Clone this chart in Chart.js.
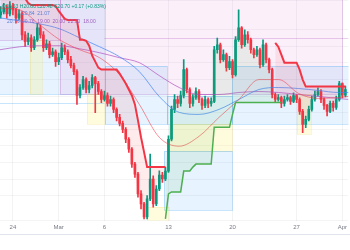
<!DOCTYPE html>
<html>
<head>
<meta charset="utf-8">
<script src="https://cdn.jsdelivr.net/npm/chart.js@4.4.1/dist/chart.umd.min.js"></script>
<style>
  html, body { margin: 0; padding: 0; background: #fff; }
  #wrap { width: 350px; height: 250px; position: relative; }
</style>
</head>
<body>
<div id="wrap"><canvas id="chart"></canvas></div>
<script>
// 8h candles, day 0 = Feb 24
var startDay = -1.333;
var candleStep = 1 / 3;

var opens = [22.95,23.04,23.16,22.98,23.22,23.10,22.86,22.98,22.35,22.14,
  22.26,21.96,22.20,22.56,22.35,21.96,22.08,21.75,21.84,21.54,
  21.66,21.96,21.84,21.60,21.42,21.24,20.52,20.76,21.00,20.70,
  20.82,21.06,20.88,20.64,20.40,20.52,20.28,20.40,20.10,19.86,
  19.68,19.50,19.20,18.90,18.45,18.15,17.55,17.25,16.86,17.40,
  18.00,17.25,17.70,18.12,18.00,18.24,19.20,20.10,20.40,20.28,
  20.52,21.30,20.70,20.28,20.46,20.64,20.40,20.22,20.40,20.28,
  20.34,21.90,22.05,21.60,21.75,21.36,21.54,21.15,22.20,22.56,
  22.05,22.35,22.20,21.90,21.75,21.90,21.45,22.05,21.60,21.30,
  20.55,20.40,20.46,20.28,20.40,20.46,20.34,20.52,20.40,20.04,
  19.65,19.80,20.10,20.40,20.55,20.64,20.40,20.22,20.04,20.28,
  20.16,20.40,20.88,20.53];
var highs = [23.20,23.30,23.25,23.35,23.30,23.15,23.10,23.05,22.45,22.40,
  22.35,22.30,22.70,22.65,22.45,22.20,22.15,21.95,21.90,21.80,
  22.10,22.05,21.90,21.70,21.50,21.30,20.85,21.10,21.05,20.95,
  21.15,21.10,20.95,20.70,20.65,20.60,20.50,20.45,20.15,19.95,
  19.75,19.55,19.25,18.95,18.50,18.20,17.65,17.30,17.50,18.75,
  18.10,17.80,18.25,18.20,18.35,19.30,20.20,20.55,20.50,20.65,
  21.60,21.35,20.75,20.55,20.75,20.70,20.45,20.50,20.45,20.45,
  22.00,22.25,22.10,21.90,21.80,21.70,21.60,22.30,23.10,22.60,
  22.50,22.45,22.25,21.95,22.00,21.95,22.20,22.10,21.65,21.35,
  20.60,20.55,20.50,20.50,20.55,20.50,20.60,20.55,20.45,20.10,
  19.90,20.20,20.50,20.65,20.75,20.70,20.45,20.25,20.35,20.35,
  20.50,20.95,20.90,20.80];
var lows = [22.85,22.98,22.85,22.92,22.95,22.70,22.80,22.20,22.00,22.05,
  21.85,21.90,22.15,22.25,21.85,21.90,21.65,21.70,21.40,21.45,
  21.60,21.75,21.50,21.35,21.15,20.25,20.45,20.70,20.60,20.60,
  20.75,20.00,20.55,20.30,20.35,20.20,20.20,20.00,19.75,19.60,
  19.40,19.10,18.80,18.35,18.05,17.45,17.10,16.80,16.80,17.35,
  17.15,17.20,17.65,17.90,17.95,18.20,19.15,20.00,20.15,20.20,
  20.45,20.60,20.15,20.20,20.40,20.30,20.10,20.15,20.15,20.20,
  20.30,21.80,21.50,21.55,21.25,21.30,21.05,21.10,22.15,21.95,
  22.00,22.10,21.80,21.65,21.70,21.35,21.40,21.50,21.20,20.45,
  20.30,20.35,20.15,20.20,20.35,20.25,20.30,20.30,19.95,19.40,
  19.55,19.75,20.05,20.35,20.50,20.30,20.10,19.90,20.00,20.05,
  20.10,20.35,20.45,20.48];
var closes = [23.04,23.16,22.98,23.22,23.10,22.86,22.98,22.35,22.14,22.26,
  21.96,22.20,22.56,22.35,21.96,22.08,21.75,21.84,21.54,21.66,
  21.96,21.84,21.60,21.42,21.24,20.52,20.76,21.00,20.70,20.82,
  21.06,20.88,20.64,20.40,20.52,20.28,20.40,20.10,19.86,19.68,
  19.50,19.20,18.90,18.45,18.15,17.55,17.25,16.86,17.40,18.00,
  17.25,17.70,18.12,18.00,18.24,19.20,20.10,20.40,20.28,20.52,
  21.30,20.70,20.28,20.46,20.64,20.40,20.22,20.40,20.28,20.34,
  21.90,22.05,21.60,21.75,21.36,21.54,21.15,22.20,22.56,22.05,
  22.35,22.20,21.90,21.75,21.90,21.45,22.05,21.60,21.30,20.55,
  20.40,20.46,20.28,20.40,20.46,20.34,20.52,20.40,20.04,19.65,
  19.80,20.10,20.40,20.55,20.64,20.40,20.22,20.04,20.28,20.16,
  20.40,20.88,20.53,20.70];

// supertrend, one value per candle (null when the other side is active)
var stUpper = [23.7,23.7,23.7,23.6,23.6,23.6,23.55,23.5,23.45,23.31,
  23.25,23.25,23.25,23.25,23.25,23.25,23.25,23.25,23.22,23.07,
  22.95,22.83,22.80,22.80,22.80,22.80,22.20,22.20,22.17,22.02,
  21.72,21.54,21.36,21.30,21.30,21.30,21.30,21.30,21.30,21.18,
  21.03,20.88,20.70,20.52,20.25,19.77,19.26,18.81,18.36,18.36,
  18.36,18.36,18.36,18.36,18.36,null,null,null,null,null,
  null,null,null,null,null,null,null,null,null,null,
  null,null,null,null,null,null,null,null,null,null,
  null,null,null,null,null,null,null,null,null,null,
  22.11,21.99,21.75,21.51,21.51,21.51,21.51,21.51,21.30,21.00,
  20.79,20.79,20.79,20.79,20.79,20.79,20.79,20.79,20.79,20.79,
  20.79,20.79,20.79,20.79];
var stLower = [null,null,null,null,null,null,null,null,null,null,
  null,null,null,null,null,null,null,null,null,null,
  null,null,null,null,null,null,null,null,null,null,
  null,null,null,null,null,null,null,null,null,null,
  null,null,null,null,null,null,null,null,null,null,
  null,null,null,null,16.80,17.55,17.61,17.61,17.61,17.61,
  18.24,18.24,18.24,18.36,18.45,18.45,18.45,18.45,18.45,18.45,
  19.56,19.56,19.56,19.56,19.56,19.56,19.95,20.31,20.31,20.31,
  20.31,20.31,20.31,20.31,20.31,20.31,20.31,20.31,20.31,20.31,
  20.31,20.31,20.31,null,null,null,null,null,null,null,
  null,null,null,null,null,null,null,null,null,null,
  null,null,null,null];

// moving averages read at these days
var maDays = [-1.41,0.76,2.94,5.11,7.29,9.47,11.64,13.82,15.99,18.17,20.35,22.52,24.70,26.88,29.05,31.23,33.41,35.58,36.67];
var maFast = [23.16,23.10,22.65,22.20,21.90,21.66,21.15,20.25,19.26,18.99,19.29,19.86,20.40,21.00,21.00,20.58,20.43,20.46,20.49];
var maMid = [22.86,22.77,22.68,22.53,22.26,21.99,21.69,21.24,20.49,20.01,19.95,20.10,20.40,20.70,20.76,20.73,20.67,20.61,20.61];
var maSlow = [21.90,21.99,22.02,22.02,21.93,21.81,21.66,21.51,21.12,20.76,20.55,20.55,20.61,20.64,20.61,20.55,20.49,20.43,20.40];

var tickDays = [0, 5, 10, 17, 24, 31, 36];
var tickLabels = ["24", "Mar", "6", "13", "20", "27", "Apr"];

// shaded zones: from day, to day, top price, bottom price, kind
var zoneFrom = [-1.5, -1.5, 5.11, 1.85, 8.05, 10.01, 16.87, 23.94, 17.08, 16.54, 14.69, 31.01];
var zoneTo = [10.01, 5.11, 35.91, 3.16, 10.01, 16.87, 23.94, 36.7, 23.94, 23.94, 17.08, 32.54];
var zoneTop = [23.6, 23.6, 23.6, 22.2, 20.55, 21.42, 20.49, 21.42, 19.65, 18.84, 17.16, 20.55];
var zoneBottom = [20.55, 22.2, 20.55, 20.55, 19.65, 19.65, 19.65, 19.65, 18.84, 17.07, 16.6, 19.35];
var zoneKind = ["blue", "pink", "pink", "yellow", "yellow", "blue", "blue", "blue", "yellow", "blue", "yellow", "yellow"];

var levelPrice = [22.26, 20.28];
var levelFrom = [10.0, -1.5];
var levelTo = [36.7, 10.0];
var levelKind = ["pink", "blue"];

var zoneFill = { blue: "rgba(33,150,243,0.11)", pink: "rgba(225,130,215,0.13)", yellow: "rgba(255,235,59,0.17)" };
var zoneLine = { blue: "rgba(33,150,243,0.25)", pink: "rgba(156,39,176,0.22)", yellow: "rgba(240,200,40,0.18)" };

var UP = "#089981", DOWN = "#f23645";

var candleX = closes.map(function (c, i) { return startDay + i * candleStep; });
var candleColors = closes.map(function (c, i) { return c >= opens[i] ? UP : DOWN; });

function pts(xs, ys) {
  return ys.map(function (v, i) { return { x: xs[i], y: v }; });
}

var zonesPlugin = {
  id: "zones",
  beforeDatasetsDraw: function (chart) {
    var ctx = chart.ctx, xs = chart.scales.x, ys = chart.scales.y, a = chart.chartArea;
    ctx.save();
    ctx.beginPath();
    ctx.rect(a.left, a.top, a.right - a.left, a.bottom - a.top);
    ctx.clip();
    for (var i = 0; i < zoneFrom.length; i++) {
      var x0 = Math.round(xs.getPixelForValue(zoneFrom[i]));
      var x1 = Math.round(xs.getPixelForValue(zoneTo[i]));
      var y0 = Math.round(ys.getPixelForValue(zoneTop[i]));
      var y1 = Math.round(ys.getPixelForValue(zoneBottom[i]));
      ctx.fillStyle = zoneFill[zoneKind[i]];
      ctx.fillRect(x0, y0, x1 - x0, y1 - y0);
      ctx.strokeStyle = zoneLine[zoneKind[i]];
      ctx.lineWidth = 1;
      ctx.strokeRect(x0 + 0.5, y0 + 0.5, x1 - x0, y1 - y0);
    }
    for (var j = 0; j < levelPrice.length; j++) {
      var y = Math.round(ys.getPixelForValue(levelPrice[j])) + 0.5;
      ctx.strokeStyle = zoneLine[levelKind[j]];
      ctx.beginPath();
      ctx.moveTo(xs.getPixelForValue(levelFrom[j]), y);
      ctx.lineTo(xs.getPixelForValue(levelTo[j]), y);
      ctx.stroke();
    }
    ctx.restore();
  },
  afterDraw: function (chart) {
    var ctx = chart.ctx, xs = chart.scales.x;
    ctx.save();
    // line under the time axis
    ctx.strokeStyle = "#e0e3eb";
    ctx.beginPath();
    ctx.moveTo(0, xs.bottom + 0.5);
    ctx.lineTo(chart.width, xs.bottom + 0.5);
    ctx.stroke();
    // legend values
    ctx.font = '5px "Liberation Sans"';
    ctx.textBaseline = "middle";
    ctx.fillStyle = UP;
    ctx.fillText("O20.53 H20.80 L20.48 C20.70 +0.17 (+0.83%)", 2, 7);
    ctx.fillStyle = "#5b7fd6";
    ctx.fillText("20.84  21.07", 22, 14);
    ctx.fillText("20.76", 7, 22);
    ctx.fillStyle = "#9c5fc0";
    ctx.fillText("20.76  19.00  20.00  22.00  18.00", 22, 22);
    ctx.restore();
  }
};

new Chart(document.getElementById("chart"), {
  type: "bar",
  data: {
    datasets: [
      {
        type: "line", label: "close", data: pts(candleX, closes),
        borderWidth: 0, pointRadius: 0, borderColor: "rgba(0,0,0,0)", order: 20
      },
      {
        type: "line", label: "st up", data: pts(candleX, stUpper),
        borderColor: "#f23645", borderWidth: 2, pointRadius: 0, spanGaps: false,
        fill: { target: 0, above: "rgba(242,54,69,0.10)", below: "rgba(242,54,69,0.10)" }, order: 1
      },
      {
        type: "line", label: "st down", data: pts(candleX, stLower),
        borderColor: "#4caf50", borderWidth: 1.5, pointRadius: 0, spanGaps: false,
        fill: { target: 0, above: "rgba(76,175,80,0.10)", below: "rgba(76,175,80,0.10)" }, order: 1
      },
      {
        type: "line", label: "ma fast", data: pts(maDays, maFast),
        borderColor: "rgba(242,54,69,0.55)", borderWidth: 1, pointRadius: 0,
        cubicInterpolationMode: "monotone", fill: false, order: 3
      },
      {
        type: "line", label: "ma mid", data: pts(maDays, maMid),
        borderColor: "rgba(66,133,244,0.7)", borderWidth: 1, pointRadius: 0,
        cubicInterpolationMode: "monotone", fill: false, order: 3
      },
      {
        type: "line", label: "ma slow", data: pts(maDays, maSlow),
        borderColor: "rgba(171,71,188,0.65)", borderWidth: 1, pointRadius: 0,
        cubicInterpolationMode: "monotone", fill: false, order: 3
      },
      {
        label: "wick", data: lows.map(function (l, i) { return { x: candleX[i], y: [l, highs[i]] }; }),
        backgroundColor: candleColors, barThickness: 1, grouped: false, order: 11
      },
      {
        label: "body", data: opens.map(function (o, i) { return { x: candleX[i], y: [o, closes[i]] }; }),
        backgroundColor: candleColors, barThickness: 2, minBarLength: 1, grouped: false, order: 10
      }
    ]
  },
  options: {
    responsive: true,
    maintainAspectRatio: false,
    animation: false,
    layout: { padding: { left: 0, right: 0, top: 0, bottom: 16 } },
    plugins: { legend: { display: false }, tooltip: { enabled: false } },
    scales: {
      x: {
        type: "linear", min: -1.41, max: 36.67, offset: false,
        grid: { color: "rgba(42,46,57,0.06)", drawTicks: false, offset: false },
        border: { display: false },
        afterBuildTicks: function (scale) {
          scale.ticks = tickDays.map(function (d) { return { value: d }; });
        },
        ticks: {
          autoSkip: false, maxRotation: 0, padding: 3,
          color: "#787b86", font: { size: 6, family: "Liberation Sans" },
          callback: function (v) { return tickLabels[tickDays.indexOf(v)]; }
        }
      },
      y: {
        min: 16.74, max: 23.4, position: "right",
        grid: { color: "rgba(42,46,57,0.05)", drawTicks: false },
        border: { display: false },
        ticks: { display: false, stepSize: 0.5 }
      }
    }
  },
  plugins: [zonesPlugin]
});
</script>
</body>
</html>
